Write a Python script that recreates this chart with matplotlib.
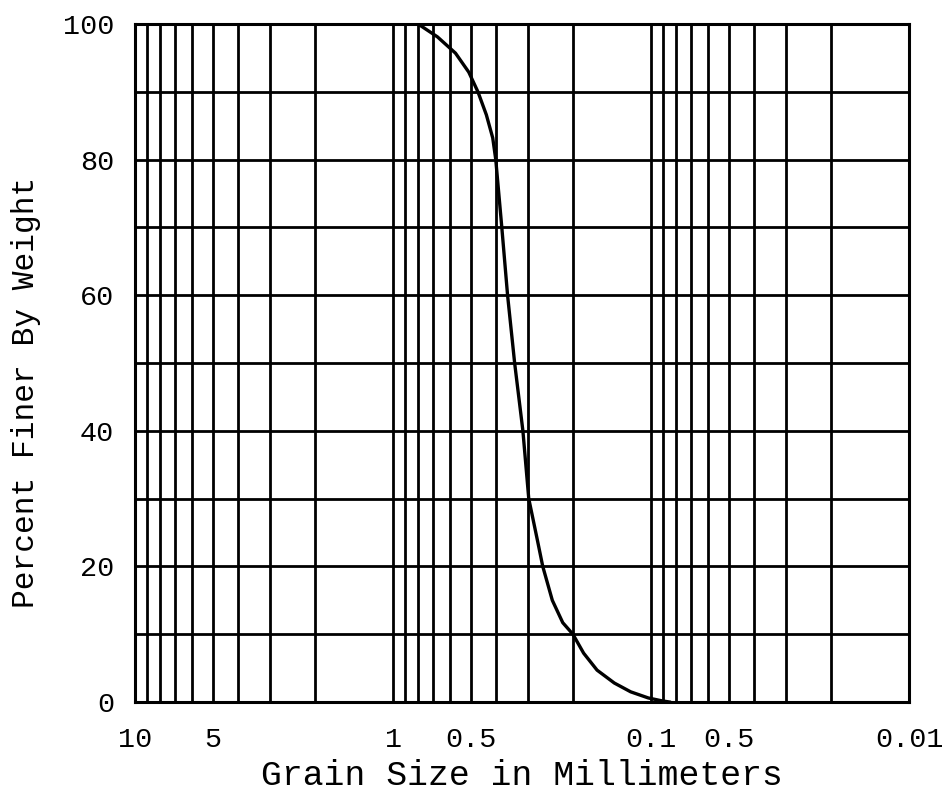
import numpy as np
import matplotlib.pyplot as plt
from matplotlib.ticker import LogLocator, NullFormatter

plt.rcParams["font.family"] = ["Liberation Mono", "DejaVu Sans Mono"]

# grain size distribution (sieve analysis)
grain_mm = [0.80, 0.673, 0.573, 0.509, 0.469, 0.435, 0.411, 0.400,
            0.379, 0.360, 0.338, 0.314, 0.298, 0.276, 0.263, 0.2415,
            0.220, 0.201, 0.1826, 0.162, 0.1389, 0.120, 0.1026, 0.0916,
            0.085]
pct_finer = [100, 98.1, 95.7, 92.9, 90, 86.6, 83.2, 80,
             70, 60, 50, 40, 30, 23.9, 20, 15,
             11.7, 10, 7.2, 4.7, 2.8, 1.5, 0.6, 0.2,
             0.0]

xtick_vals = [10, 5, 1, 0.5, 0.1, 0.05, 0.01]
xtick_labels = ["10", "5", "1", "0.5", "0.1", "0.5", "0.01"]
ytick_vals = [0, 20, 40, 60, 80, 100]

fig = plt.figure(figsize=(9.51, 8), dpi=100)
ax = fig.add_axes([0.142, 0.1225, 0.814, 0.8475])

ax.set_xscale("log")
ax.set_xlim(10, 0.01)
ax.set_ylim(0, 100)

ax.set_xticks(xtick_vals)
ax.set_xticklabels(xtick_labels)
ax.xaxis.set_minor_locator(LogLocator(base=10, subs=np.arange(1, 10)))
ax.xaxis.set_minor_formatter(NullFormatter())
ax.set_yticks(ytick_vals)
ax.set_yticks(np.arange(0, 101, 10), minor=True)

ax.grid(which="both", color="black", linewidth=2.0)
ax.tick_params(which="both", length=0, labelsize=20.5, pad=15)
ax.tick_params(axis="x", pad=18)
for s in ax.spines.values():
    s.set_linewidth(2.2)

ax.plot(grain_mm, pct_finer, color="black", linewidth=2.4)

ax.set_xlabel("Grain Size in Millimeters", fontsize=25, labelpad=4)
ax.set_ylabel("Percent Finer By Weight", fontsize=22.5)
ax.yaxis.set_label_coords(-0.122, 0.457)

fig.savefig("out.png", dpi=100)
